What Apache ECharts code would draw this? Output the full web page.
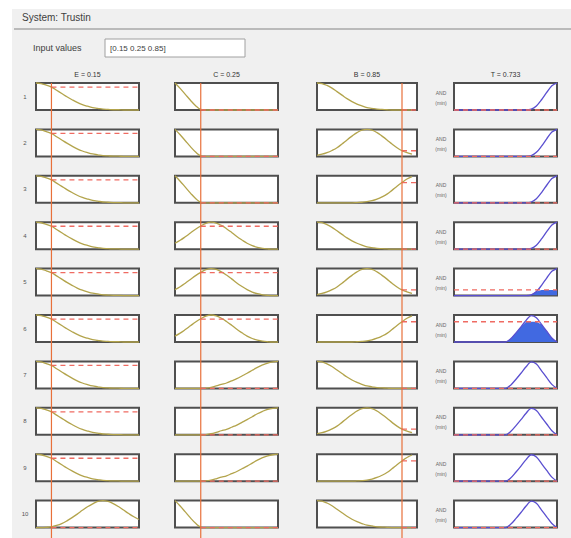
<!DOCTYPE html>
<html>
<head>
<meta charset="utf-8">
<script src="https://cdn.jsdelivr.net/npm/echarts@6/dist/echarts.min.js"></script>
<style>
  html, body { margin: 0; padding: 0; background: #ffffff; }
  #chart { width: 571px; height: 538px; }
</style>
</head>
<body>
<div id="chart"></div>
<script>
// Fuzzy inference rule viewer: system "Trustin", inputs E, C, B -> output T

const systemName = 'Trustin';
const inputNames = ['E', 'C', 'B'];
const inputValues = [0.15, 0.25, 0.85];
const outputName = 'T';
const outputValue = 0.733;
const ruleNumbers = [1, 2, 3, 4, 5, 6, 7, 8, 9, 10];

// universe sample points shared by every membership curve
const xs = [0, 0.05, 0.1, 0.15, 0.2, 0.25, 0.3, 0.35, 0.4, 0.45, 0.5,
            0.55, 0.6, 0.65, 0.7, 0.75, 0.8, 0.85, 0.9, 0.95, 1];

// membership curves of E
const eLow  = [1, 0.98, 0.92, 0.85, 0.73, 0.61, 0.49, 0.38, 0.28, 0.2, 0.14, 0.09, 0.06, 0.03, 0.02, 0.01, 0.01, 0, 0, 0, 0];
const eHigh = [0, 0, 0.01, 0.03, 0.08, 0.15, 0.25, 0.37, 0.5, 0.64, 0.77, 0.88, 0.97, 1, 0.97, 0.89, 0.78, 0.65, 0.52, 0.4, 0.3];
// membership curves of C
const cLow  = [1, 0.8, 0.58, 0.36, 0.16, 0.02, 0, 0, 0, 0, 0, 0, 0, 0, 0, 0, 0, 0, 0, 0, 0];
const cMid  = [0.22, 0.33, 0.46, 0.6, 0.74, 0.86, 0.96, 1, 0.97, 0.88, 0.76, 0.62, 0.47, 0.34, 0.22, 0.13, 0.07, 0.03, 0.01, 0, 0];
const cHigh = [0, 0, 0, 0, 0, 0, 0.01, 0.04, 0.09, 0.15, 0.2, 0.28, 0.36, 0.46, 0.56, 0.67, 0.78, 0.87, 0.94, 0.98, 1];
// membership curves of B
const bLow  = [1, 0.98, 0.91, 0.81, 0.68, 0.55, 0.42, 0.31, 0.22, 0.15, 0.09, 0.06, 0.03, 0.02, 0.01, 0, 0, 0, 0, 0, null];
const bMid  = [0.04, 0.08, 0.14, 0.22, 0.32, 0.46, 0.61, 0.75, 0.88, 0.97, 1, 0.97, 0.88, 0.75, 0.61, 0.46, 0.32, 0.21, 0.14, 0.08, null];
const bHigh = [0, 0, 0, 0, 0, 0, 0, 0, 0.01, 0.02, 0.04, 0.08, 0.14, 0.22, 0.32, 0.46, 0.61, 0.75, 0.88, 0.97, null];
// membership curves of T
const tMid  = [0, 0, 0, 0, 0, 0, 0, 0, 0, 0, 0, 0.12, 0.33, 0.56, 0.8, 0.98, 0.9, 0.65, 0.4, 0.15, 0];
const tHigh = [0, 0, 0, 0, 0, 0, 0, 0, 0, 0, 0, 0, 0, 0, 0, 0.03, 0.15, 0.38, 0.65, 0.9, 1];

// rule base: which term each rule uses
const ruleE = ['low', 'low', 'low', 'low', 'low', 'low', 'low', 'low', 'low', 'high'];
const ruleC = ['low', 'low', 'low', 'mid', 'mid', 'mid', 'high', 'high', 'high', 'low'];
const ruleB = ['low', 'mid', 'high', 'low', 'mid', 'high', 'low', 'mid', 'high', 'low'];
const ruleT = ['high', 'high', 'high', 'high', 'high', 'mid', 'mid', 'mid', 'mid', 'mid'];

// membership degree of each input in each rule
const muE = [0.85, 0.85, 0.85, 0.85, 0.85, 0.85, 0.85, 0.85, 0.85, 0];
const muC = [0, 0, 0, 0.85, 0.85, 0.85, 0, 0, 0, 0];
const muB = [0, 0.21, 0.75, 0, 0.21, 0.75, 0, 0.21, 0.75, 0];

const terms = {
  E: { low: eLow, high: eHigh },
  C: { low: cLow, mid: cMid, high: cHigh },
  B: { low: bLow, mid: bMid, high: bHigh },
  T: { mid: tMid, high: tHigh }
};
const ruleTerms = [ruleE, ruleC, ruleB];
const ruleMu = [muE, muC, muB];

// ---- layout ----
const colLeft = [36, 175, 317, 454];
const colWidth = [103, 103, 100, 103];
const rowTop0 = 83, rowStep = 46.4, boxH = 27;
const FONT = 'Liberation Sans, Arial, sans-serif';

const IN_LINE = '#b3a44c';
const OUT_LINE = '#5a4fd0';
const OUT_FILL = '#4169e1';
const DASH = '#ef6b62';
const CURSOR = '#e8703a';

const toPts = (arr) => xs.map((x, i) => [x, arr[i]]).filter(p => p[1] !== null);

const grids = [], xAxes = [], yAxes = [], series = [];

ruleNumbers.forEach((rn, r) => {
  const firing = Math.min(muE[r], muC[r], muB[r]);
  for (let c = 0; c < 4; c++) {
    const gi = r * 4 + c;
    grids.push({
      left: colLeft[c], top: rowTop0 + r * rowStep, width: colWidth[c], height: boxH,
      show: true, backgroundColor: '#ffffff', borderColor: '#4f4f4f', borderWidth: 2,
      outerBoundsMode: 'none'
    });
    xAxes.push({ gridIndex: gi, type: 'value', min: 0, max: 1, show: false });
    yAxes.push({ gridIndex: gi, type: 'value', min: 0, max: 1, show: false });

    if (c < 3) {
      const curve = terms[inputNames[c]][ruleTerms[c][r]];
      series.push({
        type: 'line', xAxisIndex: gi, yAxisIndex: gi, data: toPts(curve),
        smooth: 0.4, showSymbol: false, clip: false, silent: true,
        lineStyle: { color: IN_LINE, width: 1.3 }, z: 3
      });
      const mu = ruleMu[c][r];
      series.push({
        type: 'line', xAxisIndex: gi, yAxisIndex: gi,
        data: [[inputValues[c], mu], [1, mu]],
        showSymbol: false, clip: false, silent: true,
        lineStyle: { color: DASH, width: 1.3, type: [5, 4] }, z: 4
      });
    } else {
      const curve = terms[outputName][ruleT[r]];
      if (firing > 0) {
        series.push({
          type: 'line', xAxisIndex: gi, yAxisIndex: gi,
          data: toPts(curve).map(p => [p[0], Math.min(p[1], firing)]),
          showSymbol: false, silent: true,
          lineStyle: { width: 0 }, areaStyle: { color: OUT_FILL, opacity: 1 }, z: 2
        });
      }
      series.push({
        type: 'line', xAxisIndex: gi, yAxisIndex: gi, data: toPts(curve),
        smooth: 0.3, showSymbol: false, clip: false, silent: true,
        lineStyle: { color: OUT_LINE, width: 1.3 }, z: 3
      });
      series.push({
        type: 'line', xAxisIndex: gi, yAxisIndex: gi,
        data: [[0, firing], [1, firing]],
        showSymbol: false, clip: false, silent: true,
        lineStyle: { color: DASH, width: 1.3, type: [5, 4] }, z: 4
      });
    }
  }
});

const chart = echarts.init(document.getElementById('chart'), null, { renderer: 'svg', width: 571, height: 538 });
chart.setOption({
  animation: false,
  grid: grids, xAxis: xAxes, yAxis: yAxes, series: series
});

// ---- text, frame and input cursors ----
const g = [];
g.push({ type: 'rect', shape: { x: 12, y: 9, width: 559, height: 529 }, style: { fill: '#f0f0f0' }, z: -10, silent: true });
g.push({ type: 'line', shape: { x1: 14, y1: 29, x2: 571, y2: 29 }, style: { stroke: '#a9a9a9', lineWidth: 1.5 }, z: -5, silent: true });
g.push({ type: 'text', x: 22, y: 17, style: { text: 'System: ' + systemName, fill: '#404040', font: '10px ' + FONT, textVerticalAlign: 'middle' }, silent: true });
g.push({ type: 'text', x: 33, y: 48, style: { text: 'Input values', fill: '#404040', font: '9px ' + FONT, textVerticalAlign: 'middle' }, silent: true });
g.push({ type: 'rect', shape: { x: 105, y: 39, width: 140, height: 18 }, style: { fill: '#ffffff', stroke: '#a0a0a0', lineWidth: 1 }, silent: true });
g.push({ type: 'text', x: 110, y: 48, style: { text: '[' + inputValues.join(' ') + ']', fill: '#404040', font: '8px ' + FONT, textVerticalAlign: 'middle' }, silent: true });

const headers = inputNames.map((n, i) => n + ' = ' + inputValues[i]).concat([outputName + ' = ' + outputValue]);
headers.forEach((h, c) => {
  g.push({ type: 'text', x: colLeft[c] + colWidth[c] / 2, y: 74,
    style: { text: h, fill: '#333333', font: '7px ' + FONT, textAlign: 'center', textVerticalAlign: 'middle' }, silent: true });
});

ruleNumbers.forEach((rn, r) => {
  const cy = rowTop0 + r * rowStep + boxH / 2;
  g.push({ type: 'text', x: 25, y: cy, style: { text: String(rn), fill: '#555555', font: '6px ' + FONT, textAlign: 'center', textVerticalAlign: 'middle' }, silent: true });
  g.push({ type: 'text', x: 441, y: cy - 4, style: { text: 'AND', fill: '#666666', font: '5px ' + FONT, textAlign: 'center', textVerticalAlign: 'middle' }, silent: true });
  g.push({ type: 'text', x: 441, y: cy + 6, style: { text: '(min)', fill: '#666666', font: '5px ' + FONT, textAlign: 'center', textVerticalAlign: 'middle' }, silent: true });
});

inputValues.forEach((v, c) => {
  const top = chart.convertToPixel({ gridIndex: c }, [v, 1]);
  g.push({ type: 'line', shape: { x1: top[0], y1: top[1], x2: top[0], y2: 538 },
    style: { stroke: CURSOR, lineWidth: 1.2 }, z: 50, silent: true });
});

chart.setOption({ graphic: g });
</script>
</body>
</html>
